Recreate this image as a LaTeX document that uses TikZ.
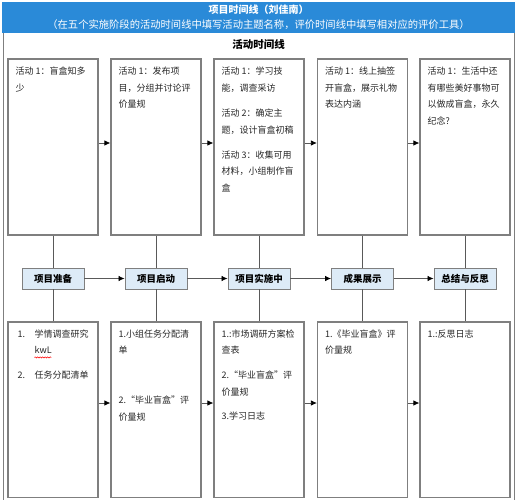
\documentclass[tikz,border=0pt]{standalone}
\usepackage{fontspec}
\setmainfont{Noto Sans CJK SC}
\usetikzlibrary{positioning,arrows.meta,decorations.pathmorphing}

\definecolor{bannerblue}{HTML}{2A8AD8}
\definecolor{framegray}{HTML}{7F7F7F}
\definecolor{stagefill}{HTML}{DDEBF7}

\begin{document}
\begin{tikzpicture}[x=1pt, y=-1pt,
  actbox/.style={draw=framegray, line width=1.2pt, minimum width=90pt, minimum height=176pt, inner sep=0pt},
  evalbox/.style={actbox, minimum height=175.5pt},
  stagenode/.style={draw=framegray, fill=stagefill, line width=0.9pt, minimum width=62pt, minimum height=21pt, inner sep=1pt, font={\bfseries\fontsize{9.5}{11}\selectfont}},
  boxtext/.style={align=left, inner sep=0pt, text=black!85, font={\fontsize{9}{16.5}\selectfont}},
  link/.style={draw=black!65, line width=0.8pt},
  flow/.style={link, -{Latex[length=6pt, width=5.5pt, black]}},
  spellmark/.style={draw=red, line width=0.5pt, decorate, decoration={snake, amplitude=0.6pt, segment length=2.5pt}}
]
\useasboundingbox (0,0) rectangle (516,500);

% banner and outer frame
\fill[bannerblue] (2,2) rectangle (515,33);
\draw[framegray, line width=1pt] (3,33) -- (3,500);
\draw[framegray, line width=1pt] (514,33) -- (514,500);
\node[text=white, font={\bfseries\fontsize{10}{12}\selectfont}] (title) at (258.5,10) {项目时间线（刘佳南）};
\node[text=white, font={\fontsize{10.3}{12}\selectfont}] (subtitle) at (258.5,25) {（在五个实施阶段的活动时间线中填写活动主题名称，评价时间线中填写相对应的评价工具）};
\node[font={\bfseries\fontsize{10.5}{12}\selectfont}] (acthead) at (258.5,44.5) {活动时间线};

% activity boxes
\node[actbox] (t1) at (53,147) {};
\node[actbox] (t2) at (156,147) {};
\node[actbox] (t3) at (259,147) {};
\node[actbox] (t4) at (362.5,147) {};
\node[actbox] (t5) at (465,147) {};

\node[boxtext, below right=8.5pt and 8pt of t1.north west] (tt1) {活动 1：盲盒知多\\少};
\node[boxtext, below right=8.5pt and 8pt of t2.north west] (tt2) {活动 1：发布项\\目，分组并讨论评\\价量规};
\node[boxtext, below right=8.5pt and 8pt of t3.north west] (tt3) {活动 1：学习技\\能，调查采访\\[9pt]活动 2：确定主\\题，设计盲盒初稿\\[8.5pt]活动 3：收集可用\\材料，小组制作盲\\盒};
\node[boxtext, below right=8.5pt and 8pt of t4.north west] (tt4) {活动 1：线上抽签\\开盲盒，展示礼物\\表达内涵};
\node[boxtext, below right=8.5pt and 8pt of t5.north west] (tt5) {活动 1：生活中还\\有哪些美好事物可\\以做成盲盒，永久\\纪念?};

% stages
\node[stagenode] (m1) at (53,278.5) {项目准备};
\node[stagenode] (m2) at (156,278.5) {项目启动};
\node[stagenode] (m3) at (259,278.5) {项目实施中};
\node[stagenode] (m4) at (362.5,278.5) {成果展示};
\node[stagenode] (m5) at (465,278.5) {总结与反思};

% evaluation boxes
\node[evalbox] (b1) at (53,409.75) {};
\node[evalbox] (b2) at (156,409.75) {};
\node[evalbox] (b3) at (259,409.75) {};
\node[evalbox] (b4) at (362.5,409.75) {};
\node[evalbox] (b5) at (465,409.75) {};

\node[boxtext, below right=8pt and 10pt of b1.north west] (bt1) {\makebox[17pt][l]{1.}学情调查研究\\\hspace*{17pt}kwL\\[8.5pt]\makebox[17pt][l]{2.}任务分配清单};
\node[boxtext, below right=8pt and 8pt of b2.north west] (bt2) {1.小组任务分配清\\单\\[33.5pt]2.“毕业盲盒”评\\价量规};
\node[boxtext, below right=8pt and 8pt of b3.north west] (bt3) {1.:市场调研方案检\\查表\\[8.5pt]2.“毕业盲盒”评\\价量规\\[7.5pt]3.学习日志};
\node[boxtext, below right=8pt and 8pt of b4.north west] (bt4) {1.《毕业盲盒》评\\价量规};
\node[boxtext, below right=8pt and 8pt of b5.north west] (bt5) {1.:反思日志};
\draw[spellmark] ([shift={(17,28)}]bt1.north west) -- ++(17,0);

% connectors
\foreach \i in {1,...,5}{
  \draw[link] (t\i) -- (m\i);
  \draw[link] (m\i) -- (b\i);
}
\foreach \i/\j in {1/2,2/3,3/4,4/5}{
  \draw[flow] (t\i.east |- 0,143) -- (t\j.west |- 0,143);
  \draw[flow] (m\i) -- (m\j);
  \draw[flow] (b\i.east |- 0,403) -- (b\j.west |- 0,403);
}
\end{tikzpicture}
\end{document}
